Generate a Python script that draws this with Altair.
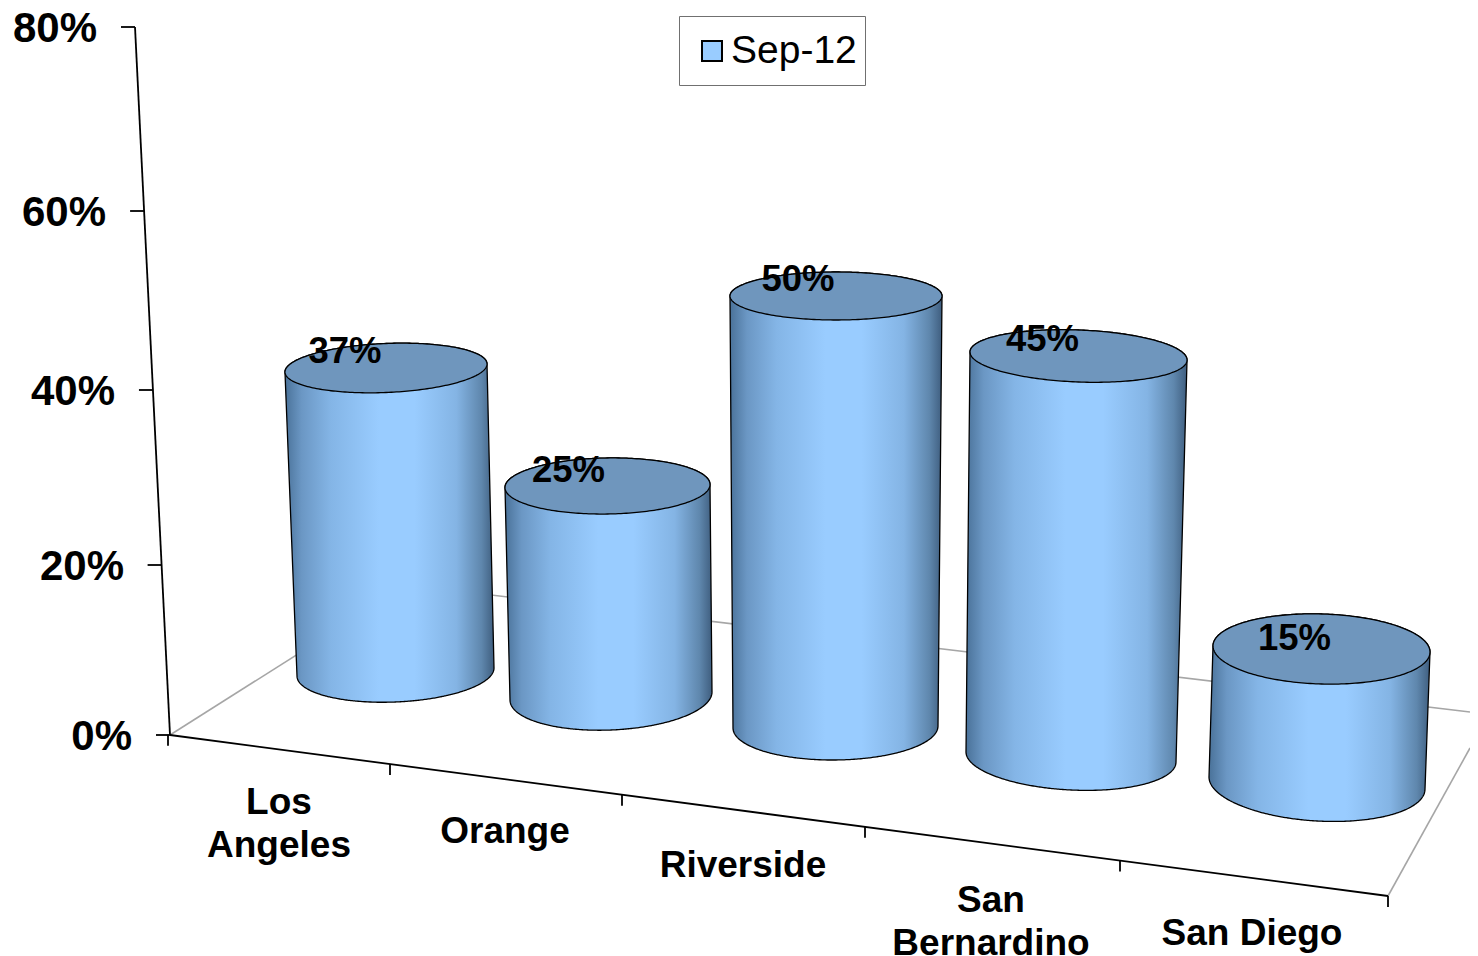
import altair as alt
import numpy as np
import pandas as pd

# ---- chart values ----
categories = ["Los\nAngeles", "Orange", "Riverside", "San\nBernardino", "San Diego"]
values = [37, 25, 50, 45, 15]
series_name = "Sep-12"
tick_values = [0, 20, 40, 60, 80]

# ---- 3-D projection of the Excel-style chart (screen layout, per slot) ----
base_cx = [395.5, 611, 835.5, 1071, 1317]
base_cy = [672, 696, 727, 757, 783]
base_a = [98.5, 101, 102.5, 105, 108]
base_b = [30, 34, 33, 33, 38]
base_s = [-4, -4, -1, 5, 6]
px_per_pct = [8.216, 8.4, 8.62, 8.911, 8.933]
lean = [-0.257, -0.14, 0.01, 0.167, 0.3]
grow = [0.068, 0.06, 0.07, 0.078, 0.033]
top_b = [24.5, 28, 24, 26, 35]
top_s = [-4, -1.5, 0, 4, 3]
label_dx = [-41, -39, -38, -36, -27]
label_dy = [-16, -15, -16, -16, -10]
cat_x = [279, 505, 743, 991, 1252]
cat_y = [803, 832, 866, 901, 934]
xtick_x = [168, 390, 622, 865, 1120, 1388]
ytick_y = [735, 565, 390, 211, 27]
ylabel_right = [132, 124, 115, 106, 97]
axis_top, axis_bottom = (135, 27), (170, 735)
floor_back = (407, 585)
floor_right = (1388, 896)

X = alt.Scale(domain=[8, 1470], nice=False, zero=False)
Y = alt.Scale(domain=[956, 8], nice=False, zero=False)


def ex(f="x"):
    return alt.X(f"{f}:Q", scale=X, axis=None)


def ey(f="y"):
    return alt.Y(f"{f}:Q", scale=Y, axis=None)


def seg(x0, y0, x1, y1, color, width):
    d = pd.DataFrame({"x": [x0], "x2": [x1], "y": [y0], "y2": [y1]})
    return alt.Chart(d).mark_rule(color=color, strokeWidth=width).encode(
        x=ex(), x2="x2:Q", y=ey(), y2="y2:Q"
    )


layers = []
# floor
layers.append(seg(axis_bottom[0], axis_bottom[1], floor_back[0], floor_back[1], "#a6a6a6", 1.6))
layers.append(seg(floor_back[0], floor_back[1], 1470, 712, "#a6a6a6", 1.6))
layers.append(seg(floor_right[0], floor_right[1], 1470, 748, "#a6a6a6", 1.6))
# axes
layers.append(seg(*axis_top, *axis_bottom, "black", 1.8))
layers.append(seg(*axis_bottom, *floor_right, "black", 1.8))
front_slope = (floor_right[1] - axis_bottom[1]) / (floor_right[0] - axis_bottom[0])
for xt in xtick_x:
    yt = axis_bottom[1] + (xt - axis_bottom[0]) * front_slope
    layers.append(seg(xt, yt, xt, yt + 11, "black", 1.8))
for yt in ytick_y:
    xa = axis_bottom[0] + (yt - axis_bottom[1]) * (axis_top[0] - axis_bottom[0]) / (axis_top[1] - axis_bottom[1])
    layers.append(seg(xa - 14, yt, xa, yt, "black", 1.8))

# cylinders
body_rows, top_rows, label_rows = [], [], []
for i, (cat, v) in enumerate(zip(categories, values)):
    cx, cy, a, b, s = base_cx[i], base_cy[i], base_a[i], base_b[i], base_s[i]
    tcx = cx + v * lean[i]
    tcy = cy - v * px_per_pct[i]
    ta = a + v * grow[i]
    tb, ts = top_b[i], top_s[i]

    tl, tr, bl, br = tcx - ta, tcx + ta, cx - a, cx + a
    tly, try_, bly, bry = tcy - ts, tcy + ts, cy - s, cy + s

    def side_l(x):
        return tly + (x - tl) * (bly - tly) / (bl - tl)

    def side_r(x):
        return try_ + (x - tr) * (bry - try_) / (br - tr)

    th = np.linspace(0, np.pi, 121)
    xs = np.unique(np.concatenate([tcx - ta * np.cos(th), cx - a * np.cos(th)]))
    xs = xs[(xs >= min(tl, bl)) & (xs <= max(tr, br))]
    for x in xs:
        ut = np.clip((x - tcx) / ta, -1, 1)
        ub = np.clip((x - cx) / a, -1, 1)
        if x < tl:
            upper = side_l(x)
        elif x > tr:
            upper = side_r(x)
        else:
            upper = tcy + ts * ut - tb * np.sqrt(1 - ut ** 2)
        if x < bl:
            lower = side_l(x)
        elif x > br:
            lower = side_r(x)
        else:
            lower = cy + s * ub + b * np.sqrt(1 - ub ** 2)
        body_rows.append({"cat": cat, "x": float(x), "y": float(upper), "y2": float(lower)})

    for t in th:
        x = tcx - ta * np.cos(t)
        u = -np.cos(t)
        top_rows.append({
            "cat": cat, "x": float(x),
            "y": float(tcy + ts * u - tb * np.sin(t)),
            "y2": float(tcy + ts * u + tb * np.sin(t)),
        })
    label_rows.append({
        "x": tcx + label_dx[i], "y": tcy + label_dy[i], "label": f"{v}%"
    })

shade = alt.Gradient(
    gradient="linear", x1=0, x2=1, y1=0, y2=0,
    stops=[
        alt.GradientStop(offset=0.0, color="#4a7299"),
        alt.GradientStop(offset=0.08, color="#6b97c4"),
        alt.GradientStop(offset=0.22, color="#84b5e6"),
        alt.GradientStop(offset=0.45, color="#99ccff"),
        alt.GradientStop(offset=0.62, color="#99ccff"),
        alt.GradientStop(offset=0.82, color="#84b4e4"),
        alt.GradientStop(offset=0.94, color="#5f87ad"),
        alt.GradientStop(offset=1.0, color="#3f5e7f"),
    ],
)
layers.append(
    alt.Chart(pd.DataFrame(body_rows)).mark_area(
        fill=shade, stroke="black", strokeWidth=1.3, interpolate="linear"
    ).encode(x=ex(), y=ey(), y2="y2:Q", detail="cat:N")
)
layers.append(
    alt.Chart(pd.DataFrame(top_rows)).mark_area(
        fill="#6f96bd", stroke="black", strokeWidth=1.3, interpolate="linear"
    ).encode(x=ex(), y=ey(), y2="y2:Q", detail="cat:N")
)

FONT = "Liberation Sans"
# value labels
layers.append(
    alt.Chart(pd.DataFrame(label_rows)).mark_text(
        font=FONT, fontWeight="bold", fontSize=36.5, color="black", baseline="middle", align="center"
    ).encode(x=ex(), y=ey(), text="label:N")
)
# y tick labels
ydf = pd.DataFrame({
    "x": ylabel_right, "y": [t + 2 for t in ytick_y],
    "label": [f"{t}%" for t in tick_values],
})
layers.append(
    alt.Chart(ydf).mark_text(
        font=FONT, fontWeight="bold", fontSize=42, color="black", baseline="middle", align="right"
    ).encode(x=ex(), y=ey(), text="label:N")
)
# category labels
cdf = pd.DataFrame({"x": cat_x, "y": cat_y, "label": categories})
layers.append(
    alt.Chart(cdf).mark_text(
        font=FONT, fontWeight="bold", fontSize=37, color="black", baseline="middle",
        align="center", lineBreak="\n", lineHeight=43,
    ).encode(x=ex(), y=ey(), text="label:N")
)
# legend
box = pd.DataFrame({"x": [679.5], "x2": [865.5], "y": [16.5], "y2": [85.5]})
layers.append(
    alt.Chart(box).mark_rect(fill="white", stroke="#707070", strokeWidth=1).encode(
        x=ex(), x2="x2:Q", y=ey(), y2="y2:Q"
    )
)
swatch = pd.DataFrame({"x": [702], "x2": [722], "y": [41], "y2": [61]})
layers.append(
    alt.Chart(swatch).mark_rect(fill="#99ccff", stroke="black", strokeWidth=2).encode(
        x=ex(), x2="x2:Q", y=ey(), y2="y2:Q"
    )
)
legend_text = pd.DataFrame({"x": [731], "y": [51], "label": [series_name]})
layers.append(
    alt.Chart(legend_text).mark_text(
        font=FONT, fontSize=39, color="black", baseline="middle", align="left"
    ).encode(x=ex(), y=ey(), text="label:N")
)

chart = (
    alt.layer(*layers)
    .properties(width=1462, height=948, padding=0, autosize=alt.AutoSizeParams(type="none"), background="white")
    .configure_view(stroke=None)
)
chart.save("out.html", embed_options={"renderer": "svg", "actions": False})
